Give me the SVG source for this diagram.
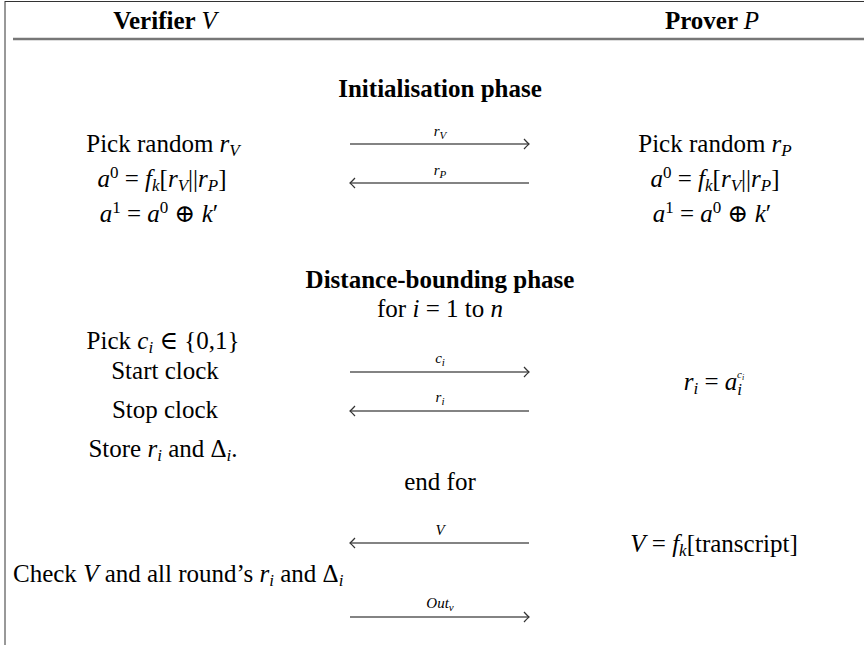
<svg xmlns="http://www.w3.org/2000/svg" width="864" height="645" viewBox="0 0 864 645">
<style>
text { font-family: "Liberation Serif", "DejaVu Serif", serif; font-size: 25px; fill: #000; }
.c { text-anchor: middle; }
.b { font-weight: bold; }
.i { font-style: italic; }
.s { font-size: 17px; }
.l { font-size: 15px; }
.ls { font-size: 11px; }
.arr { stroke: #5a5a5a; stroke-width: 1.4; fill: none; marker-end: url(#ah); }
</style>
<defs>
<marker id="ah" viewBox="-7 -6 8 12" refX="0" refY="0" markerWidth="8" markerHeight="12" markerUnits="userSpaceOnUse" orient="auto">
<path d="M-5,-5 Q-1.5,-1.2 0,0 Q-1.5,1.2 -5,5" fill="none" stroke="#333" stroke-width="1.2"/>
</marker>
</defs>
<rect width="864" height="645" fill="#fff"/>
<g id="frame">
<line x1="5" y1="1.5" x2="864" y2="1.5" stroke="#333" stroke-width="1"/>
<line x1="5" y1="1" x2="5" y2="645" stroke="#333" stroke-width="1"/>
<line x1="13" y1="39" x2="864" y2="39" stroke="#777" stroke-width="2.5"/>
</g>
<g id="header">
<text class="c b" x="165" y="29">Verifier <tspan class="i" font-weight="normal">V</tspan></text>
<text class="c b" x="712" y="29">Prover <tspan class="i" font-weight="normal">P</tspan></text>
</g>
<g id="init-title"><text class="c b" x="440" y="97">Initialisation phase</text></g>
<g id="verifier-init">
<text class="c" x="163" y="152">Pick random <tspan class="i">r</tspan><tspan class="i s" dy="4">V</tspan></text>
<text class="c" x="162" y="187"><tspan class="i">a</tspan><tspan class="s" dy="-9">0</tspan><tspan dy="9"> = </tspan><tspan class="i">f</tspan><tspan class="i s" dy="4">k</tspan><tspan dy="-4">[</tspan><tspan class="i">r</tspan><tspan class="i s" dy="4">V</tspan><tspan dy="-4">||</tspan><tspan class="i">r</tspan><tspan class="i s" dy="4">P</tspan><tspan dy="-4">]</tspan></text>
<text class="c" x="159" y="222"><tspan class="i">a</tspan><tspan class="s" dy="-9">1</tspan><tspan dy="9"> = </tspan><tspan class="i">a</tspan><tspan class="s" dy="-9">0</tspan><tspan dy="9"> ⊕ </tspan><tspan class="i">k</tspan>′</text>
</g>
<g id="prover-init">
<text class="c" x="715" y="152">Pick random <tspan class="i">r</tspan><tspan class="i s" dy="4">P</tspan></text>
<text class="c" x="715" y="187"><tspan class="i">a</tspan><tspan class="s" dy="-9">0</tspan><tspan dy="9"> = </tspan><tspan class="i">f</tspan><tspan class="i s" dy="4">k</tspan><tspan dy="-4">[</tspan><tspan class="i">r</tspan><tspan class="i s" dy="4">V</tspan><tspan dy="-4">||</tspan><tspan class="i">r</tspan><tspan class="i s" dy="4">P</tspan><tspan dy="-4">]</tspan></text>
<text class="c" x="712" y="222"><tspan class="i">a</tspan><tspan class="s" dy="-9">1</tspan><tspan dy="9"> = </tspan><tspan class="i">a</tspan><tspan class="s" dy="-9">0</tspan><tspan dy="9"> ⊕ </tspan><tspan class="i">k</tspan>′</text>
</g>
<g id="db-title">
<text class="c b" x="440" y="288">Distance-bounding phase</text>
<text class="c" x="440" y="317">for <tspan class="i">i</tspan> = 1 to <tspan class="i">n</tspan></text>
</g>
<g id="verifier-db">
<text class="c" x="163" y="349">Pick <tspan class="i">c</tspan><tspan class="i s" dy="4">i</tspan><tspan dy="-4"> ∈ {0,1}</tspan></text>
<text class="c" x="165" y="379">Start clock</text>
<text class="c" x="165" y="418">Stop clock</text>
<text class="c" x="163" y="457">Store <tspan class="i">r</tspan><tspan class="i s" dy="4">i</tspan><tspan dy="-4"> and Δ</tspan><tspan class="i s" dy="4">i</tspan><tspan dy="-4">.</tspan></text>
</g>
<g id="prover-db">
<text class="c" x="714" y="390"><tspan class="i">r</tspan><tspan class="i s" dy="4">i</tspan><tspan dy="-4"> = </tspan><tspan class="i">a</tspan><tspan class="i s" dy="5">i</tspan><tspan class="i ls" dx="-5" dy="-17">c</tspan><tspan class="i" font-size="8px" dy="2">i</tspan></text>
</g>
<g id="end-for"><text class="c" x="440" y="490">end for</text></g>
<g id="prover-final">
<text class="c" x="714" y="552"><tspan class="i">V</tspan> = <tspan class="i">f</tspan><tspan class="i s" dy="4">k</tspan><tspan dy="-4">[transcript]</tspan></text>
</g>
<g id="verifier-final">
<text x="13" y="582">Check <tspan class="i">V</tspan> and all round’s <tspan class="i">r</tspan><tspan class="i s" dy="4">i</tspan><tspan dy="-4"> and Δ</tspan><tspan class="i s" dy="4">i</tspan></text>
</g>
<g id="connectors">
<line class="arr" x1="350" y1="144" x2="529" y2="144"/>
<text class="c l i" x="440" y="136">r<tspan class="ls" dy="3">V</tspan></text>
<line class="arr" x1="529" y1="183" x2="350" y2="183"/>
<text class="c l i" x="440" y="175">r<tspan class="ls" dy="3">P</tspan></text>
<line class="arr" x1="350" y1="372" x2="529" y2="372"/>
<text class="c l i" x="440" y="363">c<tspan class="ls" dy="3">i</tspan></text>
<line class="arr" x1="529" y1="411" x2="350" y2="411"/>
<text class="c l i" x="440" y="402">r<tspan class="ls" dy="3">i</tspan></text>
<line class="arr" x1="529" y1="543" x2="350" y2="543"/>
<text class="c l i" x="440" y="535">V</text>
<line class="arr" x1="350" y1="617" x2="529" y2="617"/>
<text class="c l i" x="440" y="608">Out<tspan class="ls" dy="3">v</tspan></text>
</g>
</svg>
